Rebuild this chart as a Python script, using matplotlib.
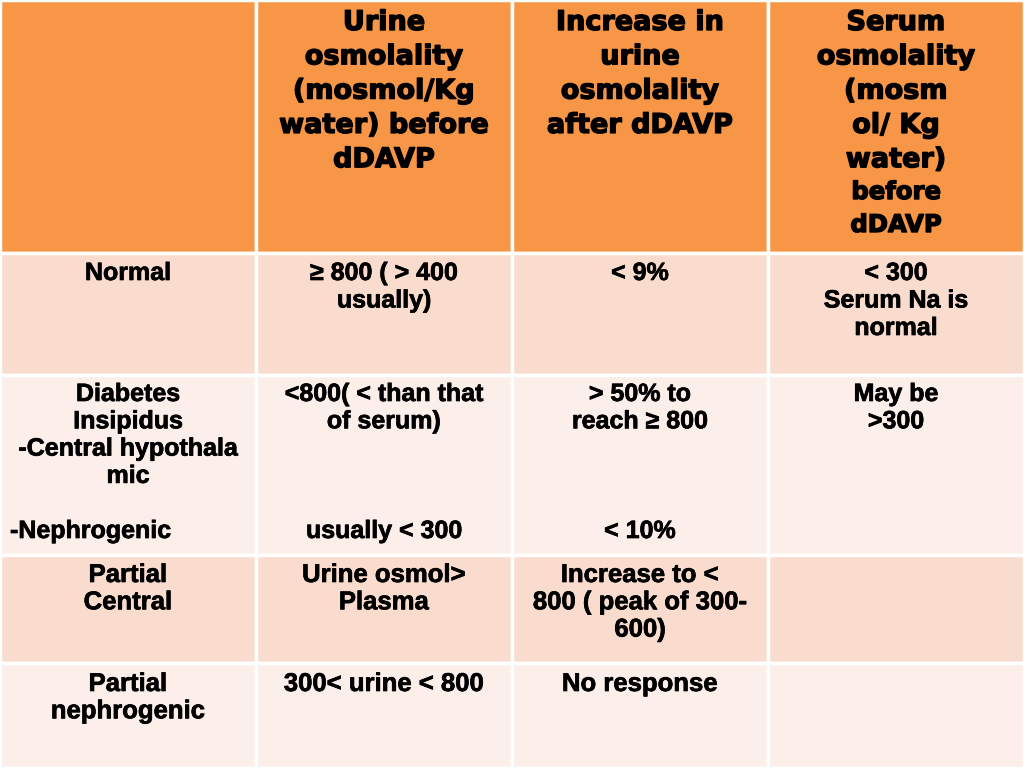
import matplotlib.pyplot as plt
import matplotlib.patheffects as pe
from matplotlib.patches import Rectangle

# table content
header = [
    [],
    ['Urine', 'osmolality', '(mosmol/Kg', 'water) before', 'dDAVP'],
    ['Increase in', 'urine', 'osmolality', 'after dDAVP'],
    ['Serum', 'osmolality', '(mosm', 'ol/ Kg', 'water)'],
]
header_small = ['before', 'dDAVP']   # smaller lines under the last header

row_normal = [['Normal'], ['\u2265 800 ( > 400', 'usually)'], ['< 9%'],
              ['< 300', 'Serum Na is', 'normal']]
row_di = [['Diabetes', 'Insipidus', '-Central hypothala', 'mic'],
          ['<800( < than that', 'of serum)'],
          ['> 50% to', 'reach \u2265 800'],
          ['May be', '>300']]
row_di_neph = ['-Nephrogenic', 'usually < 300', '< 10%', '']
row_pc = [['Partial', 'Central'], ['Urine osmol>', 'Plasma'],
          ['Increase to <', '800 ( peak of 300-', '600)'], []]
row_pn = [['Partial', 'nephrogenic'], ['300< urine < 800'], ['No response'], []]

# layout (pixels)
col_edges = [0, 256, 512, 768, 1024]
row_edges = [0, 253, 375, 555, 663, 768]
fills = ['#F79646', '#F9DCCD', '#FCEEE9', '#F9DCCD', '#FCEEE9']

fig = plt.figure(figsize=(10.24, 7.68), dpi=100)
ax = fig.add_axes([0, 0, 1, 1])
ax.set_xlim(0, 1024)
ax.set_ylim(768, 0)
ax.axis('off')

for r in range(5):
    for c in range(4):
        ax.add_patch(Rectangle((col_edges[c], row_edges[r]),
                               col_edges[c + 1] - col_edges[c],
                               row_edges[r + 1] - row_edges[r],
                               facecolor=fills[r], edgecolor='white', lw=2.5))

centers = [(col_edges[i] + col_edges[i + 1]) / 2 for i in range(4)]

# heavy header look: bold text with a thin outline of the same colour
head_font = dict(family=['DejaVu Sans'], weight='bold', fontsize=19.5,
                 path_effects=[pe.withStroke(linewidth=1.0, foreground='black')])
body_font = dict(family=['Liberation Sans', 'DejaVu Sans'], weight='bold', fontsize=18,
                 path_effects=[pe.withStroke(linewidth=0.5, foreground='black')])
narrow_font = dict(family=['Liberation Sans Narrow', 'Liberation Sans', 'DejaVu Sans'],
                   weight='bold', fontsize=18.5,
                   path_effects=[pe.withStroke(linewidth=0.5, foreground='black')])


def put(lines, x, y0, step, font, ha='center'):
    for i, s in enumerate(lines):
        ax.text(x, y0 + i * step, s, ha=ha, va='center', color='black', **font)


for c in range(4):
    put(header[c], centers[c], 23, 34.3, head_font)
put(header_small, centers[3], 192, 33, dict(head_font, fontsize=17.5))

for c in range(4):
    put(row_normal[c], centers[c], 273, 27.5, body_font)
    put(row_di[c], centers[c], 394, 27.3, body_font)
    put(row_pc[c], centers[c], 575, 27.3, narrow_font)
    put(row_pn[c], centers[c], 684, 27.3, narrow_font)

ax.text(10, 531, row_di_neph[0], ha='left', va='center', **body_font)
for c in range(1, 4):
    put([row_di_neph[c]], centers[c], 531, 27, body_font)

fig.savefig('out.png', dpi=100)
